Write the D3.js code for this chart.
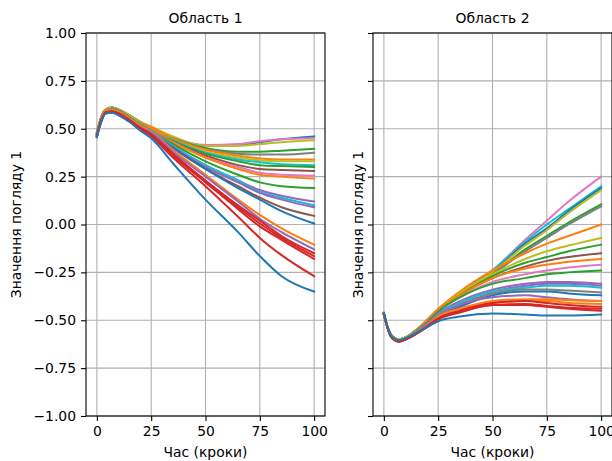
<!DOCTYPE html>
<html>
<head>
<meta charset="utf-8">
<script src="https://cdn.jsdelivr.net/npm/d3@7"></script>
<style>
  body { margin: 0; background: #fff; }
  svg text { font-family: "DejaVu Sans", sans-serif; fill: #000; }
</style>
</head>
<body>
<div id="chart"></div>
<script>
var steps = [0, 2, 4, 7, 10, 15, 20, 25, 35, 50, 65, 75, 85, 100];

var yTicks = [-1, -0.75, -0.5, -0.25, 0, 0.25, 0.5, 0.75, 1];
var xTicks = [0, 25, 50, 75, 100];
var titles = ["Область 1", "Область 2"];
var xLabel = "Час (кроки)";
var yLabel = "Значення погляду 1";

// Область 1
var region1Colors = [
  "#1f77b4", "#e377c2", "#bcbd22", "#2ca02c", "#7f7f7f", "#ff7f0e", "#bcbd22",
  "#17becf", "#2ca02c", "#8c564b", "#e377c2", "#ff7f0e", "#2ca02c", "#9467bd",
  "#17becf", "#9467bd", "#8c564b", "#1f77b4", "#ff7f0e", "#9467bd", "#d62728",
  "#d62728", "#d62728", "#d62728", "#1f77b4"
];
var region1Values = [
  [0.48, 0.56, 0.60, 0.61, 0.60, 0.57, 0.535, 0.505, 0.45, 0.41, 0.415, 0.43, 0.445, 0.46],
  [0.48, 0.56, 0.60, 0.61, 0.60, 0.57, 0.535, 0.51, 0.455, 0.415, 0.42, 0.435, 0.445, 0.45],
  [0.48, 0.56, 0.60, 0.61, 0.60, 0.57, 0.535, 0.51, 0.46, 0.41, 0.41, 0.42, 0.43, 0.44],
  [0.48, 0.56, 0.60, 0.612, 0.60, 0.57, 0.535, 0.50, 0.45, 0.40, 0.38, 0.38, 0.385, 0.395],
  [0.48, 0.56, 0.60, 0.61, 0.60, 0.57, 0.53, 0.50, 0.45, 0.395, 0.37, 0.365, 0.365, 0.375],
  [0.48, 0.56, 0.60, 0.61, 0.60, 0.57, 0.535, 0.51, 0.45, 0.39, 0.36, 0.345, 0.34, 0.34],
  [0.48, 0.56, 0.60, 0.61, 0.60, 0.57, 0.53, 0.50, 0.44, 0.38, 0.35, 0.335, 0.33, 0.33],
  [0.47, 0.55, 0.595, 0.605, 0.595, 0.56, 0.525, 0.495, 0.44, 0.375, 0.34, 0.325, 0.315, 0.31],
  [0.47, 0.55, 0.595, 0.605, 0.595, 0.56, 0.525, 0.495, 0.435, 0.37, 0.33, 0.31, 0.305, 0.30],
  [0.47, 0.55, 0.595, 0.605, 0.595, 0.56, 0.52, 0.49, 0.43, 0.36, 0.31, 0.29, 0.285, 0.28],
  [0.47, 0.55, 0.595, 0.605, 0.595, 0.56, 0.52, 0.49, 0.43, 0.35, 0.30, 0.27, 0.26, 0.255],
  [0.47, 0.55, 0.595, 0.605, 0.595, 0.56, 0.525, 0.50, 0.43, 0.35, 0.29, 0.26, 0.25, 0.24],
  [0.47, 0.55, 0.595, 0.605, 0.595, 0.56, 0.52, 0.49, 0.42, 0.33, 0.26, 0.22, 0.20, 0.19],
  [0.47, 0.55, 0.595, 0.605, 0.595, 0.56, 0.52, 0.49, 0.41, 0.31, 0.23, 0.18, 0.15, 0.12],
  [0.47, 0.55, 0.595, 0.605, 0.595, 0.56, 0.52, 0.49, 0.41, 0.31, 0.23, 0.17, 0.14, 0.10],
  [0.47, 0.55, 0.595, 0.60, 0.59, 0.555, 0.515, 0.485, 0.405, 0.30, 0.22, 0.165, 0.13, 0.09],
  [0.47, 0.55, 0.59, 0.60, 0.59, 0.555, 0.515, 0.48, 0.40, 0.29, 0.20, 0.14, 0.09, 0.045],
  [0.47, 0.55, 0.59, 0.60, 0.59, 0.555, 0.515, 0.48, 0.40, 0.29, 0.19, 0.13, 0.07, 0.005],
  [0.47, 0.55, 0.595, 0.60, 0.59, 0.555, 0.515, 0.485, 0.39, 0.26, 0.13, 0.05, -0.02, -0.105],
  [0.46, 0.54, 0.585, 0.59, 0.58, 0.545, 0.505, 0.48, 0.38, 0.25, 0.12, 0.03, -0.04, -0.13],
  [0.46, 0.54, 0.585, 0.59, 0.58, 0.545, 0.505, 0.47, 0.37, 0.23, 0.10, 0.02, -0.06, -0.15],
  [0.46, 0.54, 0.585, 0.59, 0.58, 0.545, 0.505, 0.47, 0.365, 0.225, 0.09, 0.005, -0.07, -0.165],
  [0.46, 0.54, 0.58, 0.585, 0.575, 0.54, 0.50, 0.465, 0.36, 0.22, 0.08, -0.01, -0.08, -0.18],
  [0.46, 0.54, 0.58, 0.585, 0.575, 0.54, 0.50, 0.46, 0.35, 0.20, 0.04, -0.07, -0.16, -0.27],
  [0.455, 0.535, 0.58, 0.585, 0.57, 0.535, 0.49, 0.45, 0.32, 0.13, -0.04, -0.165, -0.27, -0.35]
];

// Область 2
var region2Colors = [
  "#e377c2", "#17becf", "#1f77b4", "#bcbd22", "#2ca02c", "#7f7f7f", "#ff7f0e",
  "#bcbd22", "#2ca02c", "#8c564b", "#ff7f0e", "#e377c2", "#2ca02c", "#9467bd",
  "#9467bd", "#17becf", "#7f7f7f", "#1f77b4", "#9467bd", "#ff7f0e", "#ff7f0e",
  "#d62728", "#d62728", "#d62728", "#1f77b4"
];
var region2Values = [
  [-0.47, -0.545, -0.585, -0.60, -0.59, -0.55, -0.50, -0.445, -0.36, -0.24, -0.08, 0.02, 0.12, 0.25],
  [-0.47, -0.545, -0.585, -0.60, -0.59, -0.55, -0.50, -0.445, -0.36, -0.24, -0.09, 0.0, 0.08, 0.20],
  [-0.47, -0.545, -0.585, -0.60, -0.59, -0.55, -0.505, -0.45, -0.37, -0.25, -0.10, -0.02, 0.07, 0.19],
  [-0.47, -0.545, -0.585, -0.60, -0.59, -0.55, -0.50, -0.445, -0.36, -0.25, -0.11, -0.03, 0.06, 0.18],
  [-0.47, -0.545, -0.585, -0.60, -0.59, -0.55, -0.505, -0.45, -0.37, -0.26, -0.13, -0.06, 0.01, 0.105],
  [-0.47, -0.545, -0.585, -0.60, -0.59, -0.55, -0.505, -0.45, -0.37, -0.26, -0.14, -0.07, 0.0, 0.095],
  [-0.47, -0.545, -0.585, -0.60, -0.59, -0.55, -0.495, -0.44, -0.35, -0.24, -0.15, -0.10, -0.06, 0.0],
  [-0.47, -0.545, -0.585, -0.60, -0.59, -0.55, -0.50, -0.445, -0.36, -0.26, -0.18, -0.14, -0.11, -0.07],
  [-0.47, -0.55, -0.59, -0.605, -0.595, -0.555, -0.505, -0.45, -0.37, -0.27, -0.20, -0.17, -0.14, -0.105],
  [-0.47, -0.55, -0.59, -0.605, -0.595, -0.555, -0.505, -0.45, -0.37, -0.28, -0.22, -0.19, -0.17, -0.15],
  [-0.47, -0.55, -0.59, -0.605, -0.595, -0.555, -0.50, -0.445, -0.37, -0.28, -0.23, -0.21, -0.195, -0.18],
  [-0.47, -0.55, -0.59, -0.605, -0.595, -0.56, -0.51, -0.455, -0.38, -0.30, -0.26, -0.24, -0.225, -0.21],
  [-0.47, -0.55, -0.59, -0.605, -0.595, -0.56, -0.51, -0.455, -0.38, -0.31, -0.28, -0.26, -0.25, -0.24],
  [-0.47, -0.55, -0.59, -0.605, -0.595, -0.56, -0.515, -0.465, -0.40, -0.34, -0.31, -0.30, -0.30, -0.31],
  [-0.47, -0.55, -0.59, -0.605, -0.595, -0.56, -0.52, -0.47, -0.41, -0.35, -0.32, -0.31, -0.31, -0.32],
  [-0.47, -0.55, -0.59, -0.605, -0.595, -0.56, -0.52, -0.47, -0.41, -0.35, -0.33, -0.32, -0.32, -0.33],
  [-0.465, -0.55, -0.595, -0.61, -0.60, -0.565, -0.52, -0.475, -0.42, -0.36, -0.34, -0.34, -0.345, -0.355],
  [-0.465, -0.55, -0.595, -0.61, -0.60, -0.565, -0.525, -0.48, -0.43, -0.37, -0.35, -0.35, -0.36, -0.37],
  [-0.465, -0.55, -0.595, -0.61, -0.60, -0.565, -0.52, -0.475, -0.42, -0.38, -0.37, -0.38, -0.39, -0.40],
  [-0.465, -0.55, -0.595, -0.61, -0.60, -0.565, -0.525, -0.48, -0.44, -0.40, -0.39, -0.39, -0.395, -0.40],
  [-0.465, -0.55, -0.595, -0.61, -0.60, -0.57, -0.53, -0.485, -0.44, -0.41, -0.40, -0.40, -0.41, -0.415],
  [-0.465, -0.55, -0.595, -0.61, -0.60, -0.57, -0.53, -0.49, -0.45, -0.41, -0.40, -0.41, -0.42, -0.43],
  [-0.465, -0.55, -0.595, -0.612, -0.60, -0.57, -0.535, -0.495, -0.46, -0.42, -0.42, -0.43, -0.44, -0.45],
  [-0.465, -0.55, -0.595, -0.612, -0.60, -0.57, -0.535, -0.495, -0.455, -0.42, -0.415, -0.425, -0.435, -0.44],
  [-0.46, -0.545, -0.59, -0.605, -0.595, -0.565, -0.535, -0.505, -0.48, -0.465, -0.47, -0.475, -0.475, -0.47]
];

var width = 612;
var height = 461;
var panelTop = 33;
var panelBottom = 416;
var panelLefts = [86, 373];
var panelWidth = 239;
var fontSize = 13.9;

window.onload = function() {
  var svg = d3.select("#chart")
    .append("svg")
    .attr("width", width)
    .attr("height", height);

  var y = d3.scaleLinear()
    .domain([-1, 1])
    .range([panelBottom, panelTop]);

  var panels = [
    { colors: region1Colors, values: region1Values, showLabels: true },
    { colors: region2Colors, values: region2Values, showLabels: false }
  ];

  panels.forEach(function(p, i) {
    var left = panelLefts[i];
    var x = d3.scaleLinear()
      .domain([-5, 105])
      .range([left, left + panelWidth]);

    var g = svg.append("g");

    g.append("clipPath")
      .attr("id", "clip" + i)
      .append("rect")
      .attr("x", left)
      .attr("y", panelTop)
      .attr("width", panelWidth)
      .attr("height", panelBottom - panelTop);

    // grid
    g.selectAll(".gx")
      .data(xTicks)
      .enter()
      .append("line")
      .attr("x1", function(d) { return x(d); })
      .attr("x2", function(d) { return x(d); })
      .attr("y1", panelTop)
      .attr("y2", panelBottom)
      .attr("stroke", "#b0b0b0")
      .attr("stroke-width", 1.1);
    g.selectAll(".gy")
      .data(yTicks)
      .enter()
      .append("line")
      .attr("x1", left)
      .attr("x2", left + panelWidth)
      .attr("y1", function(d) { return y(d); })
      .attr("y2", function(d) { return y(d); })
      .attr("stroke", "#b0b0b0")
      .attr("stroke-width", 1.1);

    var line = d3.line()
      .x(function(d, k) { return x(steps[k]); })
      .y(function(d) { return y(d); })
      .curve(d3.curveMonotoneX);

    g.append("g")
      .attr("clip-path", "url(#clip" + i + ")")
      .selectAll("path")
      .data(p.values)
      .enter()
      .append("path")
      .attr("d", line)
      .attr("fill", "none")
      .attr("stroke", function(d, k) { return p.colors[k]; })
      .attr("stroke-width", 2)
      .attr("stroke-linejoin", "round")
      .attr("stroke-linecap", "square");

    // axes
    var xAxis = d3.axisBottom(x)
      .tickValues(xTicks)
      .tickSize(5)
      .tickPadding(5)
      .tickFormat(d3.format("d"));
    var gx = g.append("g")
      .attr("transform", "translate(0," + panelBottom + ")")
      .call(xAxis);

    var yAxis = d3.axisLeft(y)
      .tickValues(yTicks)
      .tickSize(5)
      .tickPadding(5)
      .tickFormat(p.showLabels ? d3.format(".2f") : "");
    var gy = g.append("g")
      .attr("transform", "translate(" + left + ",0)")
      .call(yAxis);

    [gx, gy].forEach(function(a) {
      a.select(".domain").remove();
      a.selectAll(".tick line").attr("stroke", "#000").attr("stroke-width", 1.1);
      a.selectAll(".tick text")
        .style("font-family", "DejaVu Sans")
        .style("font-size", fontSize + "px");
    });

    // frame
    g.append("rect")
      .attr("x", left)
      .attr("y", panelTop)
      .attr("width", panelWidth)
      .attr("height", panelBottom - panelTop)
      .attr("fill", "none")
      .attr("stroke", "#000")
      .attr("stroke-width", 1.1);

    g.append("text")
      .attr("x", left + panelWidth / 2)
      .attr("y", panelTop - 10)
      .attr("text-anchor", "middle")
      .style("font-size", fontSize + "px")
      .text(titles[i]);

    g.append("text")
      .attr("x", left + panelWidth / 2)
      .attr("y", 457)
      .attr("text-anchor", "middle")
      .style("font-size", fontSize + "px")
      .text(xLabel);

    var labelX = p.showLabels ? 21 : left - 10;
    g.append("text")
      .attr("transform", "translate(" + labelX + "," + ((panelTop + panelBottom) / 2) + ")rotate(-90)")
      .attr("text-anchor", "middle")
      .style("font-size", fontSize + "px")
      .text(yLabel);
  });
};
</script>
</body>
</html>
